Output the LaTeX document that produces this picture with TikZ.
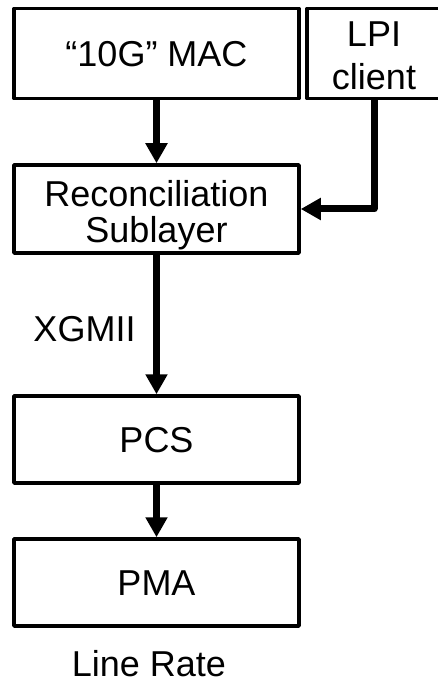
\documentclass[tikz,border=0pt]{standalone}
\usepackage{fontspec}
\setmainfont{Liberation Sans}
\usetikzlibrary{arrows.meta}
\begin{document}
\begin{tikzpicture}[x=1pt,y=-1pt,
  layerbox/.style={draw=black, line width=3.5pt, line join=round, fill=white,
    inner sep=0pt, font=\fontsize{36}{36}\selectfont,
    text height=25.8pt, text depth=0pt},
  flow/.style={line width=7pt, line join=round,
    -{Triangle[length=20pt,width=21pt]}},
  caption/.style={anchor=base, inner sep=0pt, text depth=0pt,
    font=\fontsize{36}{36}\selectfont}]
  \useasboundingbox[fill=white] (0,0) rectangle (438,684);

  % layer boxes
  \node[layerbox, minimum width=285pt, minimum height=90pt] (mac) at (156.5,53.5) {“10G” MAC\hspace{10pt}};
  \node[layerbox, minimum width=134pt, minimum height=90pt, align=center,
        font=\fontsize{36}{43}\selectfont, text height=73pt] (lpi) at (374,53.5) {LPI\hspace{19pt}\\client};
  \node[layerbox, minimum width=285pt, minimum height=88pt, align=center,
        text height=68pt] (rs) at (156.5,209) {Reconciliation\\Sublayer};
  \node[layerbox, minimum width=285pt, minimum height=87pt] (pcs) at (156.5,439.5) {PCS};
  \node[layerbox, minimum width=285pt, minimum height=87pt] (pma) at (156.5,582.5) {PMA};

  % interface labels
  \node[caption] (xgmii) at (84.5,341) {XGMII};
  \node[caption] (rate) at (149,676) {Line Rate};

  % data paths
  \draw[flow] (mac.south) -- (rs.north);
  \draw[flow] (lpi.south) |- (rs.east);
  \draw[flow] (rs.south) -- (pcs.north);
  \draw[flow] (pcs.south) -- (pma.north);
\end{tikzpicture}
\end{document}
